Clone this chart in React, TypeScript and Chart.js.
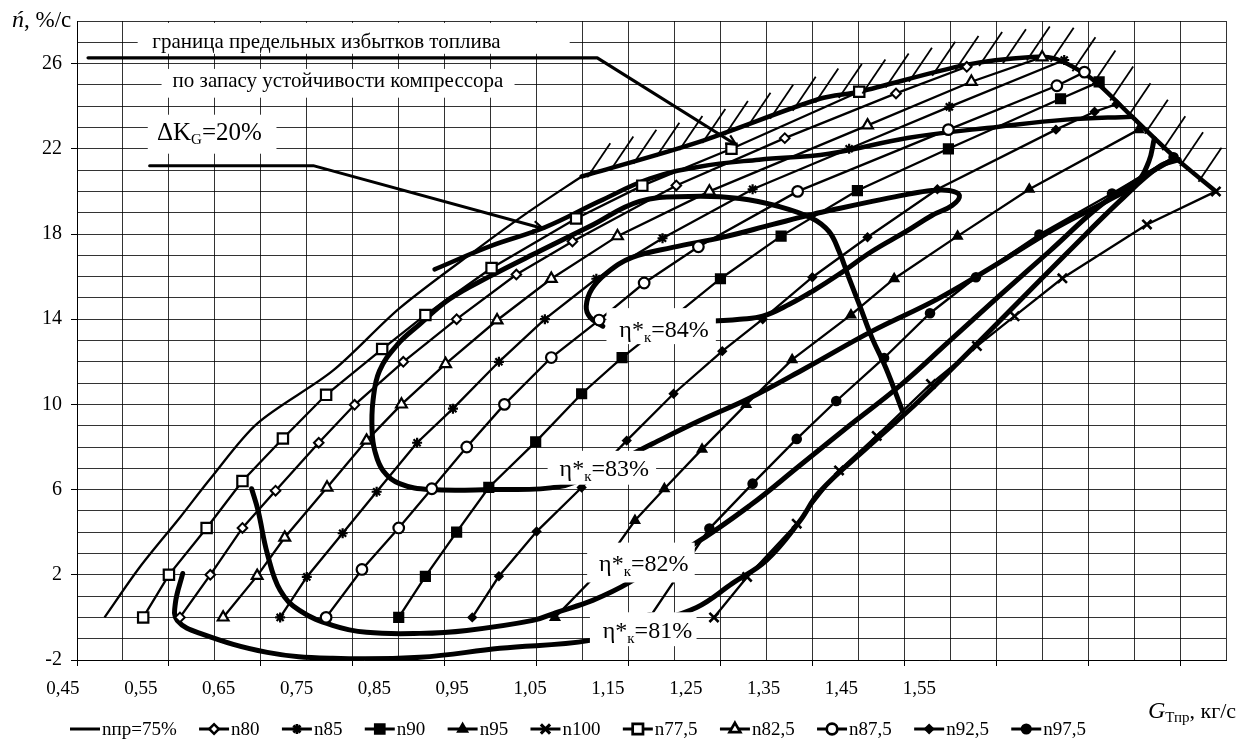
import React, { useEffect, useRef } from 'react';
import { Chart, registerables } from 'chart.js';
import { drawPoint } from 'chart.js/helpers';

Chart.register(...registerables);

type P = [number, number];

// ---- tick labels ----
const xTickLabels = [0.45, 0.55, 0.65, 0.75, 0.85, 0.95, 1.05, 1.15, 1.25, 1.35, 1.45, 1.55];
const yTickLabels = [-2, 2, 6, 10, 14, 18, 22, 26];

// ---- speed lines (G, n') ----
const n75: P[] = [[0.48, 0], [0.518, 2.34], [0.562, 4.69], [0.595, 6.51], [0.646, 9.1], [0.728, 11.57], [0.801, 14.52], [0.885, 17.28], [0.942, 19.06], [0.999, 20.7]];
const n80: P[] = [[0.562, 0], [0.595, 2.0], [0.63, 4.2], [0.666, 5.95], [0.713, 8.2], [0.752, 9.98], [0.805, 12.0], [0.863, 14.0], [0.928, 16.1], [0.989, 17.65], [1.102, 20.28], [1.22, 22.5], [1.341, 24.6], [1.418, 25.85]];
const n85: P[] = [[0.671, 0], [0.70, 1.9], [0.739, 3.95], [0.776, 5.9], [0.82, 8.2], [0.859, 9.8], [0.909, 12.0], [0.959, 14.0], [1.015, 15.9], [1.087, 17.8], [1.185, 20.1], [1.29, 22.0], [1.399, 23.97], [1.524, 26.17]];
const n90: P[] = [[0.80, 0], [0.829, 1.93], [0.863, 4.0], [0.898, 6.1], [0.949, 8.24], [0.999, 10.5], [1.043, 12.2], [1.097, 14.05], [1.15, 15.9], [1.216, 17.9], [1.299, 20.04], [1.398, 22.0], [1.52, 24.35], [1.562, 25.14]];
const n95: P[] = [[0.97, 0], [1.015, 2.0], [1.057, 4.55], [1.089, 6.04], [1.13, 7.9], [1.178, 10.0], [1.228, 12.1], [1.292, 14.2], [1.339, 15.9], [1.408, 17.9], [1.486, 20.1], [1.605, 22.9]];
const n100: P[] = [[1.143, 0], [1.179, 1.9], [1.233, 4.4], [1.279, 6.9], [1.32, 8.52], [1.379, 10.96], [1.429, 12.74], [1.47, 14.14], [1.522, 15.92], [1.614, 18.45], [1.689, 20.0]];
const n775: P[] = [[0.522, 0], [0.55, 2.0], [0.591, 4.2], [0.63, 6.4], [0.674, 8.4], [0.721, 10.45], [0.782, 12.6], [0.829, 14.2], [0.901, 16.4], [0.993, 18.73], [1.065, 20.27], [1.162, 22.0], [1.301, 24.68]];
const n825: P[] = [[0.609, 0], [0.646, 1.95], [0.676, 3.75], [0.722, 6.1], [0.765, 8.3], [0.803, 10.0], [0.851, 11.9], [0.907, 13.95], [0.966, 15.9], [1.038, 17.9], [1.138, 20.0], [1.31, 23.1], [1.423, 25.15], [1.50, 26.3]];
const n875: P[] = [[0.721, 0], [0.76, 2.25], [0.80, 4.2], [0.836, 6.04], [0.874, 8.0], [0.915, 10.0], [0.966, 12.2], [1.018, 13.96], [1.067, 15.7], [1.126, 17.4], [1.234, 20.0], [1.398, 22.9], [1.516, 24.96], [1.546, 25.6]];
const n925: P[] = [[0.88, 0], [0.909, 1.93], [0.95, 4.03], [0.999, 6.1], [1.048, 8.3], [1.099, 10.5], [1.152, 12.5], [1.196, 14.0], [1.25, 15.97], [1.31, 17.85], [1.386, 20.1], [1.515, 22.9], [1.557, 23.74], [1.581, 24.1]];
const n975: P[] = [[1.073, 0], [1.138, 4.17], [1.185, 6.28], [1.233, 8.38], [1.276, 10.16], [1.328, 12.18], [1.378, 14.28], [1.428, 15.97], [1.497, 17.98], [1.576, 19.9], [1.643, 21.6]];

// ---- boundaries ----
const surgeLine: P[] = [[0.999, 20.7], [1.127, 22.33], [1.258, 24.35], [1.301, 24.68], [1.417, 25.94], [1.489, 26.31], [1.515, 26.22], [1.543, 25.61], [1.562, 25.0], [1.598, 23.5], [1.646, 21.54], [1.689, 20.0]];
const marginLine: P[] = [[0.839, 16.34], [0.899, 17.42], [0.959, 18.31], [1.018, 19.53], [1.073, 20.6], [1.127, 21.16], [1.192, 21.49], [1.268, 21.77], [1.355, 22.52], [1.453, 23.04], [1.526, 23.37], [1.598, 23.51]];

// ---- efficiency contours ----
const eta84: P[] = [[1.022, 13.67], [1.008, 14.1], [1.004, 14.61], [1.01, 15.41], [1.026, 16.16], [1.054, 16.9], [1.098, 17.37], [1.152, 17.84], [1.207, 18.45], [1.25, 18.92], [1.279, 19.2], [1.315, 19.53], [1.352, 19.85], [1.38, 20.04], [1.399, 20.04], [1.41, 19.81], [1.402, 19.34], [1.38, 18.87], [1.352, 18.12], [1.315, 17.19], [1.279, 16.11], [1.25, 15.31], [1.225, 14.7], [1.196, 14.14], [1.171, 14.0], [1.143, 13.91]];
const eta83: P[] = [[1.622, 22.48], [1.616, 21.4], [1.602, 20.37], [1.576, 19.67], [1.518, 18.36], [1.461, 16.86], [1.388, 14.99], [1.315, 13.44], [1.243, 11.71], [1.182, 10.3], [1.127, 9.23], [1.076, 8.15], [1.018, 6.89], [0.975, 6.14], [0.899, 6.0], [0.834, 6.0], [0.801, 6.28], [0.783, 6.89], [0.774, 7.82], [0.771, 8.76], [0.772, 10.16], [0.779, 11.57], [0.799, 12.83], [0.823, 13.77], [0.855, 14.94], [0.899, 16.01], [0.953, 17.19], [1.008, 18.36], [1.062, 19.53], [1.116, 19.76], [1.171, 19.67], [1.214, 19.29], [1.25, 18.73], [1.268, 18.12], [1.279, 17.19], [1.29, 15.92], [1.301, 14.7], [1.315, 13.11], [1.33, 11.71], [1.348, 9.69]];
const eta82: P[] = [[0.640, 6.04], [0.647, 5.01], [0.657, 3.0], [0.671, 1.27], [0.692, 0.33], [0.728, -0.37], [0.765, -0.7], [0.823, -0.75], [0.874, -0.61], [0.946, -0.14], [0.972, 0.24], [1.011, 0.8], [1.051, 1.64], [1.09, 2.8], [1.12, 3.4], [1.182, 5.25], [1.236, 7.12], [1.29, 9.0], [1.345, 10.87], [1.399, 12.97], [1.453, 15.08], [1.508, 17.19], [1.562, 19.29], [1.605, 20.56], [1.638, 21.4]];
const eta81: P[] = [[0.565, 2.06], [0.557, 0.66], [0.559, -0.14], [0.584, -0.75], [0.657, -1.64], [0.728, -1.92], [0.823, -1.87], [0.91, -1.45], [1.008, -1.08], [1.07, -0.3], [1.124, 0.47], [1.163, 1.6], [1.2, 2.68], [1.236, 4.5], [1.258, 5.9], [1.312, 8.06], [1.366, 10.16], [1.421, 12.5], [1.475, 14.84], [1.529, 17.19], [1.584, 19.53], [1.627, 21.16], [1.649, 21.49]];

// ---- leader lines of the annotations ----
const leaderSurge: P[] = [[0.462, 26.27], [1.016, 26.27], [1.167, 22.19]];
const leaderMargin: P[] = [[0.529, 21.21], [0.707, 21.21], [0.957, 18.26]];

type Part = { t: string; size: number; italic?: boolean; dy?: number };
type Note = { box: [number, number, number, number]; at: [number, number]; parts: Part[] };

const notes: Note[] = [
  { box: [0.516, 27.91, 0.986, 26.46], at: [0.532, 26.74], parts: [{ t: 'граница предельных избытков топлива', size: 21 }] },
  { box: [0.542, 25.75, 0.926, 24.4], at: [0.554, 24.91], parts: [{ t: 'по запасу устойчивости компрессора', size: 21 }] },
  { box: [0.527, 23.6, 0.667, 21.77], at: [0.537, 22.43], parts: [{ t: 'ΔK', size: 25 }, { t: 'G', size: 15, dy: 4 }, { t: '=20%', size: 25 }] },
  { box: [1.026, 14.52, 1.145, 12.83], at: [1.04, 13.16], parts: [{ t: 'η*', size: 24 }, { t: 'к', size: 15, dy: 5 }, { t: '=84%', size: 24 }] },
  { box: [0.962, 7.82, 1.08, 6.23], at: [0.975, 6.65], parts: [{ t: 'η*', size: 24 }, { t: 'к', size: 15, dy: 5 }, { t: '=83%', size: 24 }] },
  { box: [1.005, 3.51, 1.122, 1.64], at: [1.018, 2.2], parts: [{ t: 'η*', size: 24 }, { t: 'к', size: 15, dy: 5 }, { t: '=82%', size: 24 }] },
  { box: [1.008, 0.24, 1.124, -1.35], at: [1.022, -0.98], parts: [{ t: 'η*', size: 24 }, { t: 'к', size: 15, dy: 5 }, { t: '=81%', size: 24 }] },
];

const FONT = '"Liberation Serif", "Times New Roman", serif';

function drawRich(ctx: CanvasRenderingContext2D, parts: Part[], x: number, y: number) {
  let cx = x;
  for (const p of parts) {
    ctx.font = `${p.italic ? 'italic ' : ''}${p.size}px ${FONT}`;
    ctx.fillText(p.t, cx, y + (p.dy || 0));
    cx += ctx.measureText(p.t).width;
  }
}

const toXY = (a: P[]) => a.map(([x, y]) => ({ x, y }));

const speedDs = (label: string, data: P[], pointStyle: any, radius: number, bg: string, bw = 2) => ({
  label, data: toXY(data), inLegend: true,
  borderColor: '#000', borderWidth: 2.3, tension: 0,
  pointStyle, pointRadius: radius, pointHoverRadius: radius,
  pointBackgroundColor: bg, pointBorderColor: '#000', pointBorderWidth: bw,
});

const curveDs = (label: string, data: P[], width: number, tension: number, role = '') => ({
  label, data: toXY(data), inLegend: false, role,
  borderColor: '#000', borderWidth: width, tension, pointRadius: 0, pointHoverRadius: 0,
  borderCapStyle: 'round', borderJoinStyle: 'round',
});

const hatchPlugin = {
  id: 'hatch',
  afterDatasetsDraw(chart: any) {
    const ctx = chart.ctx as CanvasRenderingContext2D;
    chart.data.datasets.forEach((d: any, i: number) => {
      if (d.role !== 'surge') return;
      const pts = chart.getDatasetMeta(i).data.map((p: any) => [p.x, p.y]);
      ctx.save();
      ctx.strokeStyle = '#000';
      ctx.lineWidth = 1.8;
      const step = 24;
      let carry = 8;
      for (let k = 0; k < pts.length - 1; k++) {
        const [x0, y0] = pts[k];
        const [x1, y1] = pts[k + 1];
        const len = Math.hypot(x1 - x0, y1 - y0);
        let dd = carry;
        while (dd <= len) {
          const t = dd / len;
          const x = x0 + (x1 - x0) * t;
          const y = y0 + (y1 - y0) * t;
          ctx.beginPath();
          ctx.moveTo(x - 2, y + 3);
          ctx.lineTo(x + 21, y - 31);
          ctx.stroke();
          dd += step;
        }
        carry = dd - len;
      }
      ctx.restore();
    });
  },
};

const arrowPlugin = {
  id: 'arrows',
  afterDatasetsDraw(chart: any) {
    const ctx = chart.ctx as CanvasRenderingContext2D;
    chart.data.datasets.forEach((d: any, i: number) => {
      if (d.role !== 'leader') return;
      const pts = chart.getDatasetMeta(i).data;
      const a = pts[pts.length - 2];
      const b = pts[pts.length - 1];
      const ang = Math.atan2(b.y - a.y, b.x - a.x);
      ctx.save();
      ctx.strokeStyle = '#000';
      ctx.lineWidth = 2.2;
      ctx.beginPath();
      ctx.moveTo(b.x - 11 * Math.cos(ang - 0.45), b.y - 11 * Math.sin(ang - 0.45));
      ctx.lineTo(b.x, b.y);
      ctx.lineTo(b.x - 11 * Math.cos(ang + 0.45), b.y - 11 * Math.sin(ang + 0.45));
      ctx.stroke();
      ctx.restore();
    });
  },
};

const textPlugin = {
  id: 'texts',
  afterDraw(chart: any) {
    const ctx = chart.ctx as CanvasRenderingContext2D;
    const xs = chart.scales.x;
    const ys = chart.scales.y;
    const xl = chart.scales.xl;
    const area = chart.chartArea;
    ctx.save();
    ctx.fillStyle = '#000';
    ctx.textBaseline = 'alphabetic';
    // annotation boxes
    for (const n of notes) {
      const x1 = xs.getPixelForValue(n.box[0]);
      const y1 = ys.getPixelForValue(n.box[1]);
      const x2 = xs.getPixelForValue(n.box[2]);
      const y2 = ys.getPixelForValue(n.box[3]);
      ctx.fillStyle = '#fff';
      ctx.fillRect(x1, y1, x2 - x1, y2 - y1);
      ctx.fillStyle = '#000';
      drawRich(ctx, n.parts, xs.getPixelForValue(n.at[0]), ys.getPixelForValue(n.at[1]));
    }
    // x tick labels
    ctx.font = `19px ${FONT}`;
    ctx.textAlign = 'center';
    ctx.textBaseline = 'middle';
    for (const v of xTickLabels) {
      ctx.fillText(v.toFixed(2).replace('.', ','), xl.getPixelForValue(v), area.bottom + 29);
    }
    // axis titles
    ctx.textAlign = 'left';
    ctx.textBaseline = 'alphabetic';
    drawRich(ctx, [{ t: 'ń', size: 24, italic: true }, { t: ', %/с', size: 23 }], 12, 27);
    drawRich(ctx, [{ t: 'G', size: 24, italic: true }, { t: 'Тпр', size: 15, dy: 4 }, { t: ', кг/с', size: 22 }], area.right - 78, area.bottom + 58);

    // legend
    const items = chart.data.datasets.filter((d: any) => d.inLegend);
    const LF = `19px ${FONT}`;
    ctx.font = LF;
    const lineW = 30;
    const widths = items.map((d: any) => lineW + 3 + ctx.measureText(d.label).width);
    const startX = 70;
    const endX = 1087;
    const gap = (endX - startX - widths.reduce((s: number, w: number) => s + w, 0)) / (items.length - 1);
    let cx = startX;
    const ly = 729;
    items.forEach((d: any, i: number) => {
      ctx.strokeStyle = '#000';
      ctx.lineWidth = 3;
      ctx.beginPath();
      ctx.moveTo(cx, ly);
      ctx.lineTo(cx + lineW, ly);
      ctx.stroke();
      if (d.pointRadius > 0) {
        ctx.fillStyle = d.pointBackgroundColor;
        ctx.lineWidth = d.pointBorderWidth + 0.5;
        drawPoint(ctx, { pointStyle: d.pointStyle, radius: d.pointRadius, rotation: 0, borderWidth: d.pointBorderWidth + 0.5 } as any, cx + lineW / 2, ly);
      }
      ctx.fillStyle = '#000';
      ctx.font = LF;
      ctx.textBaseline = 'middle';
      ctx.fillText(d.label, cx + lineW + 2, ly + 1);
      cx += widths[i] + gap;
    });
    ctx.restore();
  },
};

export default function App() {
  const ref = useRef<HTMLCanvasElement | null>(null);

  useEffect(() => {
    document.body.style.margin = '0';
    if (!ref.current) return;
    Chart.defaults.font.family = FONT;
    Chart.defaults.color = '#000';

    const datasets: any[] = [
      { ...speedDs('nпр=75%', n75, 'circle', 0, '#000'), pointRadius: 0, tension: 0.3 },
      speedDs('n80', n80, 'rectRot', 4.8, '#fff'),
      speedDs('n85', n85, 'star', 5, '#000', 2.2),
      speedDs('n90', n90, 'rect', 6.5, '#000'),
      speedDs('n95', n95, 'triangle', 5, '#000'),
      speedDs('n100', n100, 'crossRot', 6.5, '#000', 2.6),
      speedDs('n77,5', n775, 'rect', 7.3, '#fff', 2.2),
      speedDs('n82,5', n825, 'triangle', 6.2, '#fff', 2.2),
      speedDs('n87,5', n875, 'circle', 5.3, '#fff', 2.2),
      speedDs('n92,5', n925, 'rectRot', 3.8, '#000'),
      speedDs('n97,5', n975, 'circle', 4.3, '#000'),
      curveDs('surge', surgeLine, 4.5, 0.3, 'surge'),
      curveDs('margin', marginLine, 4.5, 0.4),
      curveDs('eta84', eta84, 5, 0.4),
      curveDs('eta83', eta83, 5, 0.4),
      curveDs('eta82', eta82, 5, 0.4),
      curveDs('eta81', eta81, 5, 0.4),
      curveDs('leader1', leaderSurge, 3.2, 0, 'leader'),
      curveDs('leader2', leaderMargin, 3, 0, 'leader'),
    ];

    const chart = new Chart(ref.current, {
      type: 'line',
      data: { datasets },
      options: {
        animation: false,
        responsive: false,
        devicePixelRatio: 1,
        layout: { padding: { top: 19, right: 19, bottom: 83, left: 0 } },
        plugins: { legend: { display: false }, tooltip: { enabled: false } },
        scales: {
          x: {
            type: 'linear', min: 0.45, max: 1.7,
            afterFit: (s: any) => { s.height = 6; },
            ticks: { display: false, stepSize: 0.05 },
            grid: {
              color: 'rgba(0,0,0,0.8)', lineWidth: 1, drawTicks: true, tickLength: 6,
              tickColor: (c: any) => (c.index % 2 === 0 ? '#000' : 'rgba(0,0,0,0)'),
            },
            border: { display: true, color: '#000', width: 1 },
          },
          xl: {
            type: 'linear', position: 'bottom', display: false, min: 0.468, max: 1.944,
          },
          y: {
            type: 'linear', min: -2, max: 28,
            afterFit: (s: any) => { s.width = 77; },
            ticks: {
              stepSize: 1, autoSkip: false, padding: 9,
              font: { size: 20, family: FONT }, color: '#000',
              callback: (v: any) => (yTickLabels.includes(Number(v)) ? String(v) : ''),
            },
            grid: {
              color: 'rgba(0,0,0,0.8)', lineWidth: 1, tickLength: 6,
              tickColor: (c: any) => (yTickLabels.includes(c.tick?.value) ? '#000' : 'rgba(0,0,0,0)'),
            },
            border: { display: true, color: '#000', width: 1 },
          },
        },
      } as any,
      plugins: [hatchPlugin, arrowPlugin, textPlugin],
    });
    return () => chart.destroy();
  }, []);

  return (
    <div style={{ width: 1245, height: 749 }}>
      <canvas ref={ref} width={1245} height={749} />
    </div>
  );
}
